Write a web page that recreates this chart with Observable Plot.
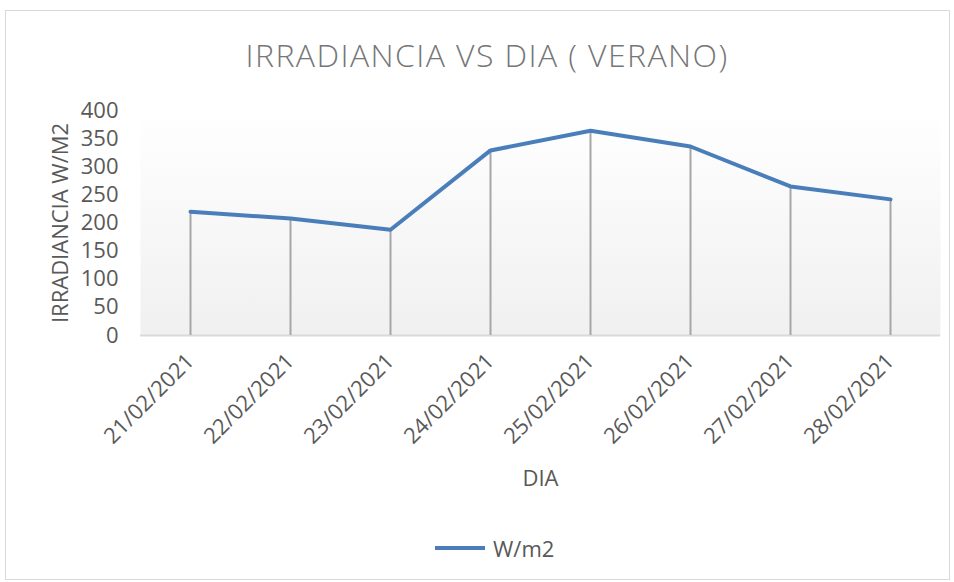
<!DOCTYPE html>
<html><head><meta charset="utf-8">
<script src="https://cdn.jsdelivr.net/npm/d3@7"></script>
<script src="https://cdn.jsdelivr.net/npm/@observablehq/plot@0.6"></script>
<style>
body{margin:0;background:#fff;font-family:"Open Sans",sans-serif;}
#wrap{position:relative;width:954px;height:582px;overflow:hidden;}
#border{position:absolute;left:5px;top:10px;width:945px;height:570px;border:1px solid #d9d9d9;box-sizing:border-box;}
#title{position:absolute;left:0;width:974px;top:35px;text-align:center;font-size:32px;font-weight:300;letter-spacing:1.4px;color:#767676;line-height:40px;white-space:nowrap;}
#legend{position:absolute;left:435px;top:533px;height:30px;display:flex;align-items:center;font-size:22px;color:#595959;}
#legend .sw{width:50px;height:4px;background:#4a7ebb;margin-right:8px;}
#chart{position:absolute;left:0;top:0;}
</style></head>
<body>
<div id="wrap">
  <div id="border"></div>
  <div id="chart"></div>
  <div id="title">IRRADIANCIA VS DIA ( VERANO)</div>
  <div id="legend"><div class="sw"></div><span>W/m2</span></div>
</div>
<script>
const dias = ["21/02/2021","22/02/2021","23/02/2021","24/02/2021","25/02/2021","26/02/2021","27/02/2021","28/02/2021"];
const irradiancia = [220, 208, 188, 329, 364, 336, 265, 242];
const yTicks = [0, 50, 100, 150, 200, 250, 300, 350, 400];

const data = dias.map((d, i) => ({dia: d, valor: irradiancia[i]}));

const plot = Plot.plot({
  width: 954,
  height: 582,
  marginLeft: 140,
  marginRight: 14,
  marginTop: 110,
  marginBottom: 247,
  style: {fontFamily: "Open Sans, sans-serif", background: "transparent", overflow: "visible"},
  x: {type: "point", domain: dias, padding: 0.5},
  y: {domain: [0, 400]},
  marks: [
    Plot.frame({fill: "url(#bgGrad)", stroke: null}),
    Plot.ruleY([0], {stroke: "#d9d9d9", strokeWidth: 2}),
    Plot.ruleX(data, {x: "dia", y1: 0, y2: "valor", stroke: "#a6a6a6", strokeWidth: 2}),
    Plot.line(data, {x: "dia", y: "valor", stroke: "#4a7ebb", strokeWidth: 4, strokeLinejoin: "round"}),
    Plot.axisY({ticks: yTicks, tickSize: 0, tickPadding: 22, fontSize: 22, color: "#595959",
      label: "IRRADIANCIA W/M2", labelAnchor: "center", labelArrow: "none", labelOffset: 88}),
    Plot.axisX({tickSize: 0, tickRotate: -45, tickPadding: 22, fontSize: 22, color: "#595959",
      label: "DIA", labelAnchor: "center", labelArrow: "none", labelOffset: 150})
  ]
});

const ns = "http://www.w3.org/2000/svg";
const defs = document.createElementNS(ns, "defs");
defs.innerHTML = '<linearGradient id="bgGrad" x1="0" y1="0" x2="0" y2="1"><stop offset="0" stop-color="#ffffff"/><stop offset="1" stop-color="#f0f0f0"/></linearGradient>';
plot.insertBefore(defs, plot.firstChild);
plot.querySelectorAll('[aria-label="y-axis label"] text, [aria-label="x-axis label"] text').forEach(t => { t.setAttribute("fill", "#595959"); t.style.fontSize = "22px"; });
document.getElementById("chart").appendChild(plot);
</script>
</body></html>
